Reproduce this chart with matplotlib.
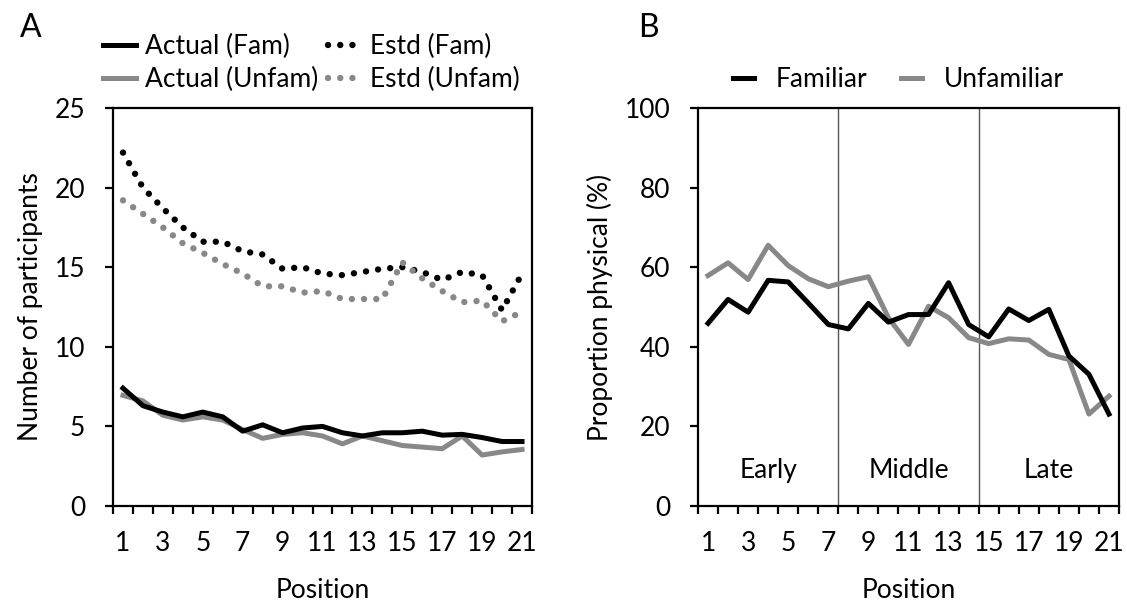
import matplotlib
matplotlib.use("Agg")
import matplotlib.pyplot as plt
import numpy as np

plt.rcParams['font.family'] = ['Lato', 'DejaVu Sans']

positions = list(range(1, 22))
xtick_labels = [str(p) for p in range(1, 22, 2)]

actual_fam = [7.4, 6.3, 5.9, 5.6, 5.9, 5.6, 4.7, 5.1, 4.6, 4.9, 5.0, 4.6, 4.4, 4.6,
              4.6, 4.7, 4.45, 4.5, 4.3, 4.05, 4.05]
actual_unfam = [6.95, 6.6, 5.7, 5.4, 5.6, 5.4, 4.8, 4.25, 4.5, 4.6, 4.4, 3.9, 4.4, 4.1,
                3.8, 3.7, 3.6, 4.4, 3.2, 3.4, 3.55]
estd_fam = [22.2, 20.0, 18.7, 17.5, 16.6, 16.6, 16.0, 15.8, 14.9, 15.0, 14.6, 14.5,
            14.7, 14.9, 15.0, 14.7, 14.2, 14.7, 14.5, 12.3, 14.6]
estd_unfam = [19.2, 18.35, 17.5, 16.5, 15.9, 15.2, 14.6, 13.8, 13.8, 13.4, 13.5, 13.0,
              13.0, 13.0, 15.3, 14.3, 13.5, 12.8, 12.9, 11.6, 12.2]

prop_fam = [45.9, 51.9, 48.7, 56.7, 56.3, 51.0, 45.6, 44.5, 50.9, 46.2, 48.1, 48.1,
            56.1, 45.6, 42.5, 49.5, 46.6, 49.4, 37.7, 33.1, 23.1]
prop_unfam = [57.9, 61.1, 56.9, 65.5, 60.4, 57.1, 55.1, 56.5, 57.6, 47.3, 40.6, 50.2,
              47.3, 42.3, 40.8, 42.0, 41.7, 38.1, 36.8, 23.1, 27.6]

phase_labels = ['Early', 'Middle', 'Late']
phase_centers = [4, 11, 18]
phase_bounds = [7.5, 14.5]

BLACK = '#000000'
GRAY = '#888888'
FS = 19

W, H = 1127, 603
fig = plt.figure(figsize=(W / 100, H / 100), dpi=100)


def px_axes(l, r, t, b):
    return fig.add_axes([l / W, 1 - b / H, (r - l) / W, (b - t) / H])


def style_axes(ax, ymax, ystep):
    ax.set_xlim(0.5, 21.5)
    ax.set_ylim(0, ymax)
    for s in ax.spines.values():
        s.set_linewidth(1.6)
        s.set_color('black')
    ax.set_xticks(range(1, 22, 2))
    ax.set_xticklabels(xtick_labels)
    ax.set_xticks(np.arange(0.5, 22, 1), minor=True)
    ax.tick_params(axis='x', which='major', length=0, pad=18, labelsize=FS)
    ax.tick_params(axis='x', which='minor', length=6, width=1.6, direction='out')
    ax.set_yticks(np.arange(0, ymax + 0.1, ystep))
    ax.tick_params(axis='y', which='major', length=6, width=1.6, direction='out',
                   pad=14, labelsize=FS)
    ax.set_xlabel('Position', fontsize=FS, labelpad=16)


# Panel A
axA = px_axes(113, 532, 108, 506)
l1, = axA.plot(positions, actual_fam, color=BLACK, lw=3.6)
l2, = axA.plot(positions, actual_unfam, color=GRAY, lw=3.6)
l3, = axA.plot(positions, estd_fam, color=BLACK, lw=4.6, linestyle=(0, (0.01, 1.9)),
               dash_capstyle='round')
l4, = axA.plot(positions, estd_unfam, color=GRAY, lw=4.6, linestyle=(0, (0.01, 1.9)),
               dash_capstyle='round')
l2.set_zorder(1)
l1.set_zorder(2)
style_axes(axA, 25, 5)
axA.set_ylabel('Number of participants', fontsize=FS, labelpad=8)
axA.legend([l1, l2, l3, l4],
           ['Actual (Fam)', 'Actual (Unfam)', 'Estd (Fam)', 'Estd (Unfam)'],
           ncol=2, frameon=False, fontsize=FS, handlelength=1.25,
           handletextpad=0.35, columnspacing=0.35, labelspacing=0.3,
           loc='lower left', bbox_to_anchor=(103 / W, 1 - 92 / H),
           bbox_transform=fig.transFigure, borderaxespad=0, borderpad=0)

# Panel B
axB = px_axes(698, 1119, 108, 506)
m1, = axB.plot(positions, prop_fam, color=BLACK, lw=3.6, zorder=3)
m2, = axB.plot(positions, prop_unfam, color=GRAY, lw=3.6, zorder=2)
for xb in phase_bounds:
    axB.axvline(xb, color='#555555', lw=1.0, zorder=1)
for lab, xc in zip(phase_labels, phase_centers):
    axB.text(xc, 9, lab, ha='center', va='center', fontsize=FS)
style_axes(axB, 100, 20)
axB.set_ylabel('Proportion physical (%)', fontsize=FS, labelpad=8)
axB.legend([m1, m2], ['Familiar', 'Unfamiliar'], ncol=2, frameon=False, fontsize=FS,
           handlelength=0.8, handletextpad=0.8, columnspacing=1.3,
           loc='lower left', bbox_to_anchor=(733 / W, 1 - 92 / H),
           bbox_transform=fig.transFigure, borderaxespad=0, borderpad=0)

fig.text(20 / W, 1 - 28 / H, 'A', fontsize=23, va='center', ha='left')
fig.text(638 / W, 1 - 28 / H, 'B', fontsize=23, va='center', ha='left')

fig.savefig('out.png', dpi=100)
